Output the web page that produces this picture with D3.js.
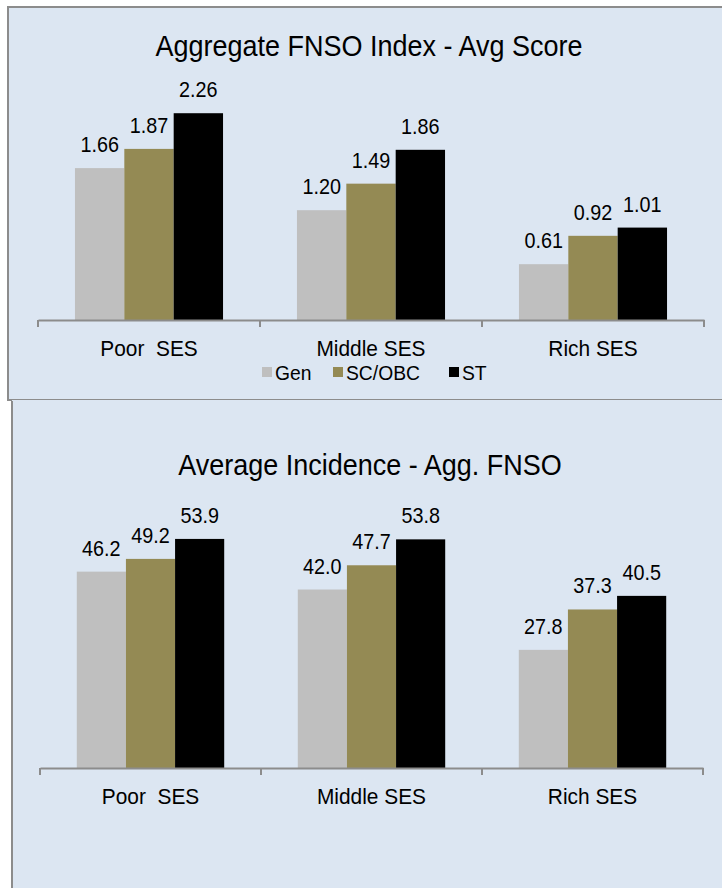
<!DOCTYPE html>
<html>
<head>
<meta charset="utf-8">
<script src="https://cdn.jsdelivr.net/npm/d3@7"></script>
<style>
  html, body { margin: 0; padding: 0; background: #ffffff; }
  svg { display: block; font-family: "Liberation Sans", Arial, sans-serif; }
  text { white-space: pre; fill: #000; }
</style>
</head>
<body>
<svg id="chart" width="722" height="888"></svg>
<script>
// Categories and series
const categories = ["Poor  SES", "Middle SES", "Rich SES"];
const seriesNames = ["Gen", "SC/OBC", "ST"];
const seriesColors = ["#BFBFBF", "#948A54", "#000000"];

// Aggregate FNSO Index - average score
const scoreGen = [1.66, 1.20, 0.61];
const scoreSC  = [1.87, 1.49, 0.92];
const scoreST  = [2.26, 1.86, 1.01];

// Average incidence of aggregate FNSO (%)
const incGen = [46.2, 42.0, 27.8];
const incSC  = [49.2, 47.7, 37.3];
const incST  = [53.9, 53.8, 40.5];

const svg = d3.select("#chart");

// Panel backgrounds
svg.append("rect").attr("x", 8).attr("y", 7).attr("width", 730).attr("height", 393)
  .attr("fill", "#DCE6F2").attr("stroke", "#8C8C8C").attr("stroke-width", 2);
svg.append("rect").attr("x", 12).attr("y", 400).attr("width", 730).attr("height", 500)
  .attr("fill", "#DCE6F2");
svg.append("line").attr("x1", 12).attr("x2", 12).attr("y1", 401).attr("y2", 888)
  .attr("stroke", "#8C8C8C").attr("stroke-width", 2);

function drawChart(cfg) {
  const g = svg.append("g");
  const x0 = d3.scaleBand().domain(categories).range([cfg.x0, cfg.x1]).paddingInner(0).paddingOuter(0);
  const barSpan = x0.bandwidth() * 0.667;
  const x1 = d3.scaleBand().domain(seriesNames).range([0, barSpan]).padding(0);
  const y = d3.scaleLinear().domain(cfg.domain).range([cfg.axisY, cfg.axisY - cfg.plotH]);

  const rows = categories.map((c, i) => ({
    cat: c,
    vals: cfg.series.map((s, j) => ({ name: seriesNames[j], v: s[i], color: seriesColors[j] }))
  }));

  const grp = g.selectAll("g.cat").data(rows).join("g")
    .attr("transform", d => `translate(${x0(d.cat) + (x0.bandwidth() - barSpan) / 2},0)`);

  grp.selectAll("rect").data(d => d.vals).join("rect")
    .attr("x", d => x1(d.name))
    .attr("width", x1.bandwidth())
    .attr("y", d => y(d.v))
    .attr("height", d => y(0) - y(d.v))
    .attr("fill", d => d.color);

  grp.selectAll("text").data(d => d.vals).join("text")
    .attr("transform", d => `translate(${x1(d.name) + x1.bandwidth() / 2},${y(d.v) - 16}) scale(0.9,1)`)
    .attr("text-anchor", "middle")
    .attr("font-size", 22)
    .text(d => d3.format(cfg.fmt)(d.v));

  // Category axis
  const axis = d3.axisBottom(x0).tickSizeInner(0).tickSizeOuter(0).tickFormat("");
  const ax = g.append("g").attr("transform", `translate(0,${cfg.axisY})`).call(axis);
  ax.select(".domain").attr("stroke", "#8C8C8C").attr("stroke-width", 2);
  const bounds = [cfg.x0].concat(categories.map(c => x0(c) + x0.bandwidth()));
  g.selectAll("line.tk").data(bounds).join("line")
    .attr("x1", d => d).attr("x2", d => d)
    .attr("y1", cfg.axisY).attr("y2", cfg.axisY + 7)
    .attr("stroke", "#8C8C8C").attr("stroke-width", 2);

  g.selectAll("text.cat").data(categories).join("text")
    .attr("transform", d => `translate(${x0(d) + x0.bandwidth() / 2},${cfg.axisY + 36}) scale(0.95,1)`)
    .attr("text-anchor", "middle")
    .attr("font-size", 22)
    .text(d => d);

  g.append("text")
    .attr("transform", `translate(${cfg.titleX},${cfg.titleY}) scale(0.9,1)`)
    .attr("text-anchor", "middle")
    .attr("font-size", 30)
    .text(cfg.title);
}

drawChart({
  title: "Aggregate FNSO Index - Avg Score",
  titleX: 369, titleY: 56,
  x0: 38, x1: 704, axisY: 320, plotH: 228.75, domain: [0, 2.5],
  series: [scoreGen, scoreSC, scoreST], fmt: ".2f"
});

drawChart({
  title: "Average Incidence - Agg. FNSO",
  titleX: 370, titleY: 475,
  x0: 40, x1: 703, axisY: 768, plotH: 255, domain: [0, 60],
  series: [incGen, incSC, incST], fmt: ".1f"
});

// Legend for the first panel
const legendX = [262, 333, 449];
const lg = svg.append("g").selectAll("g").data(seriesNames).join("g")
  .attr("transform", (d, i) => `translate(${legendX[i]},372)`);
lg.append("rect").attr("x", 0).attr("y", -5).attr("width", 10).attr("height", 10)
  .attr("fill", (d, i) => seriesColors[i]);
lg.append("text").attr("transform", "translate(13,8) scale(0.92,1)")
  .attr("font-size", 21).text(d => d);
</script>
</body>
</html>
